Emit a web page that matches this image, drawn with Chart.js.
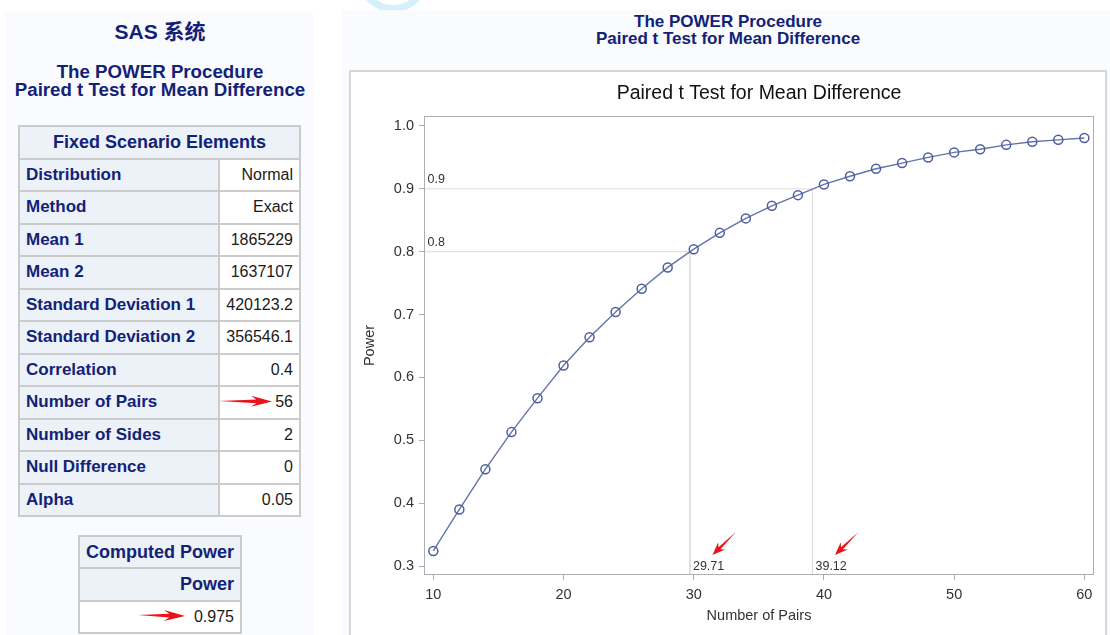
<!DOCTYPE html>
<html>
<head>
<meta charset="utf-8">
<script src="https://cdn.jsdelivr.net/npm/chart.js@4.4.0/dist/chart.umd.min.js"></script>
<style>
html, body { margin: 0; padding: 0; background: #fff; width: 1110px; height: 635px; overflow: hidden;
  font-family: 'Liberation Sans', Arial, 'Noto Sans CJK SC', sans-serif; }
.panel { position: absolute; background: #FAFBFE; }
#left-panel { left: 5px; top: 12px; width: 308px; height: 623px; }
#right-panel { left: 342px; top: 10px; width: 768px; height: 625px; }
.head { position: absolute; width: 400px; text-align: center; color: #112277; font-weight: bold;
  line-height: 1; white-space: nowrap; }
table { position: absolute; border-collapse: collapse; }
th, td { border: 2px solid #cbcbcb; padding: 0 6px; white-space: nowrap; }
th { background: #EDF2F9; color: #112277; font-weight: bold; font-size: 17px; text-align: left; }
td { background: #fff; color: #1a1a1a; font-size: 16px; text-align: right; }
th.cap { text-align: center; font-size: 18px; }
th.rt { text-align: right; font-size: 18px; }
#scenario { left: 18px; top: 125px; width: 283px; }
#scenario tr { height: 32.5px; }
#computed { left: 78px; top: 535px; width: 163px; }
#computed tr { height: 32.4px; }
#chart-box { position: absolute; left: 349px; top: 70px; width: 758px; height: 580px;
  box-sizing: border-box; border: 2px solid #d6d6d6; background: #fff; }
#power-chart { position: absolute; left: 351px; top: 72px; }
#marks { position: absolute; left: 0; top: 0; pointer-events: none; }
#wm { position: absolute; left: 356px; top: -62px; width: 60px; height: 60px; border-radius: 50%;
  border: 7px solid #d3f0fc; }
</style>
</head>
<body>
<div id="wm"></div>
<div class="panel" id="left-panel"></div>
<div class="panel" id="right-panel"></div>

<div class="head" style="left:-40px; top:20.5px; font-size:21px;">SAS 系统</div>
<div class="head" style="left:-40px; top:63px; font-size:18.7px;">The POWER Procedure</div>
<div class="head" style="left:-40px; top:81px; font-size:18.7px;">Paired t Test for Mean Difference</div>

<div class="head" style="left:528px; top:12.7px; font-size:17px;">The POWER Procedure</div>
<div class="head" style="left:528px; top:30px; font-size:17px;">Paired t Test for Mean Difference</div>

<table id="scenario"></table>
<table id="computed"></table>

<div id="chart-box"></div>
<canvas id="power-chart" width="754" height="563"></canvas>
<svg id="marks" width="1110" height="635"></svg>

<script>
// Table contents
const scenarioLabels = ['Distribution', 'Method', 'Mean 1', 'Mean 2', 'Standard Deviation 1',
  'Standard Deviation 2', 'Correlation', 'Number of Pairs', 'Number of Sides', 'Null Difference', 'Alpha'];
const scenarioValues = ['Normal', 'Exact', '1865229', '1637107', '420123.2', '356546.1', '0.4', '56', '2', '0', '0.05'];
const computedPower = ['0.975'];

// Chart data
const pairsN = [10, 12, 14, 16, 18, 20, 22, 24, 26, 28, 30, 32, 34, 36, 38, 40, 42, 44, 46, 48, 50, 52, 54, 56, 58, 60];
const powerVals = [0.324, 0.390, 0.454, 0.513, 0.567, 0.619, 0.664, 0.704, 0.741, 0.775, 0.804, 0.830, 0.853,
  0.873, 0.890, 0.907, 0.920, 0.932, 0.941, 0.950, 0.958, 0.963, 0.970, 0.975, 0.978, 0.981];
const refPower = [0.8, 0.9];
const refPairs = [29.71, 39.12];
const refPairsText = ['29.71', '39.12'];
const xTicks = [10, 20, 30, 40, 50, 60];
const yTicks = [0.3, 0.4, 0.5, 0.6, 0.7, 0.8, 0.9, 1.0];

const xMin = 9.285, xMax = 60.74;
const yMin = 0.2857, yMax = 1.0159;

// Tables
let html = '<tr><th class="cap" colspan="2">Fixed Scenario Elements</th></tr>';
scenarioLabels.forEach((lab, i) => {
    html += `<tr><th style="width:186px">${lab}</th><td>${scenarioValues[i]}</td></tr>`;
});
document.getElementById('scenario').innerHTML = html;
document.getElementById('computed').innerHTML =
    '<tr><th class="cap">Computed Power</th></tr><tr><th class="rt">Power</th></tr>' +
    `<tr><td>${computedPower[0]}</td></tr>`;

// Arrow polygon (tail -> tip)
function arrowPoly(x1, y1, x2, y2, head, half, shaft) {
    const a = Math.atan2(y2 - y1, x2 - x1);
    const L = Math.hypot(x2 - x1, y2 - y1);
    const pts = [[-L, 0], [-head * 0.75, -shaft], [-head, -half], [0, 0], [-head, half], [-head * 0.75, shaft]];
    const c = Math.cos(a), s = Math.sin(a);
    return pts.map(([px, py]) => [x2 + px * c - py * s, y2 + px * s + py * c]);
}

// Red arrows beside the tables
const svg = document.getElementById('marks');
[[219, 401, 272, 401.5], [138, 615, 185, 616]].forEach(([x1, y1, x2, y2]) => {
    const p = document.createElementNS('http://www.w3.org/2000/svg', 'polygon');
    p.setAttribute('points', arrowPoly(x1, y1, x2, y2, 21, 5.5, 1.8).map(q => q.join(',')).join(' '));
    p.setAttribute('fill', '#e8141c');
    svg.appendChild(p);
});

// Frame, reference labels and arrows
const notesPlugin = {
    id: 'notes',
    afterDatasetsDraw(chart) {
        const {ctx, chartArea: a, scales: {x, y}} = chart;
        ctx.save();
        ctx.strokeStyle = '#a9aeb4';
        ctx.lineWidth = 1;
        ctx.strokeRect(Math.round(a.left) + 0.5, Math.round(a.top) + 0.5,
            Math.round(a.right - a.left) - 1, Math.round(a.bottom - a.top) - 1);

        ctx.fillStyle = '#333';
        ctx.font = "12.5px 'Liberation Sans', Arial, sans-serif";
        ctx.textBaseline = 'alphabetic';
        refPower.forEach(p => {
            ctx.fillText(p.toFixed(1), a.left + 3.5, y.getPixelForValue(p) - 6);
        });
        refPairs.forEach((n, i) => {
            ctx.fillText(refPairsText[i], x.getPixelForValue(n) + 3, a.bottom - 5);
        });

        ctx.fillStyle = '#e8141c';
        refPairs.forEach(n => {
            const px = x.getPixelForValue(n);
            const pts = arrowPoly(px + 46, a.bottom - 43, px + 22.5, a.bottom - 20, 13, 5, 1.4);
            ctx.beginPath();
            pts.forEach(([qx, qy], k) => k ? ctx.lineTo(qx, qy) : ctx.moveTo(qx, qy));
            ctx.closePath();
            ctx.fill();
        });
        ctx.restore();
    }
};

Chart.defaults.font.family = "'Liberation Sans', Arial, sans-serif";

const refSets = refPower.map((p, i) => ({
    data: [{x: xMin, y: p}, {x: refPairs[i], y: p}, {x: refPairs[i], y: yMin}],
    borderColor: '#dcdcdc',
    borderWidth: 1,
    pointRadius: 0,
    order: 2
}));

new Chart(document.getElementById('power-chart'), {
    type: 'line',
    data: {
        datasets: [{
            data: pairsN.map((n, i) => ({x: n, y: powerVals[i]})),
            borderColor: '#6473ad',
            borderWidth: 1.4,
            pointRadius: 4.5,
            pointBorderWidth: 1.5,
            pointBorderColor: '#4f5f9c',
            pointBackgroundColor: 'rgba(0,0,0,0)',
            order: 1
        }, ...refSets]
    },
    options: {
        responsive: false,
        animation: false,
        layout: {padding: {left: 0, right: 11, top: 0, bottom: 0}},
        plugins: {
            legend: {display: false},
            tooltip: {enabled: false},
            title: {
                display: true,
                fullSize: false,
                text: 'Paired t Test for Mean Difference',
                color: '#111',
                font: {size: 19.5, weight: 'normal'},
                padding: {top: 10.3, bottom: 10.3}
            }
        },
        scales: {
            x: {
                type: 'linear',
                min: xMin,
                max: xMax,
                afterBuildTicks: ax => { ax.ticks = xTicks.map(v => ({value: v})); },
                afterFit: ax => { ax.height = 60; },
                grid: {drawOnChartArea: false, drawTicks: true, tickLength: 5, color: '#a9aeb4'},
                border: {display: false},
                ticks: {color: '#333', font: {size: 14.5}, padding: 6, maxRotation: 0, autoSkip: false},
                title: {display: true, text: 'Number of Pairs', color: '#333', font: {size: 14.5},
                    padding: {top: 0, bottom: 10.3}}
            },
            y: {
                min: yMin,
                max: yMax,
                afterBuildTicks: ax => { ax.ticks = yTicks.map(v => ({value: v})); },
                afterFit: ax => { ax.width = 73; },
                grid: {drawOnChartArea: false, drawTicks: true, tickLength: 5, color: '#a9aeb4'},
                border: {display: false},
                ticks: {color: '#333', font: {size: 14.5}, padding: 5, callback: v => v.toFixed(1)},
                title: {display: true, text: 'Power', color: '#333', font: {size: 14.5},
                    padding: {top: 10.3, bottom: 0}}
            }
        }
    },
    plugins: [notesPlugin]
});
</script>
</body>
</html>
